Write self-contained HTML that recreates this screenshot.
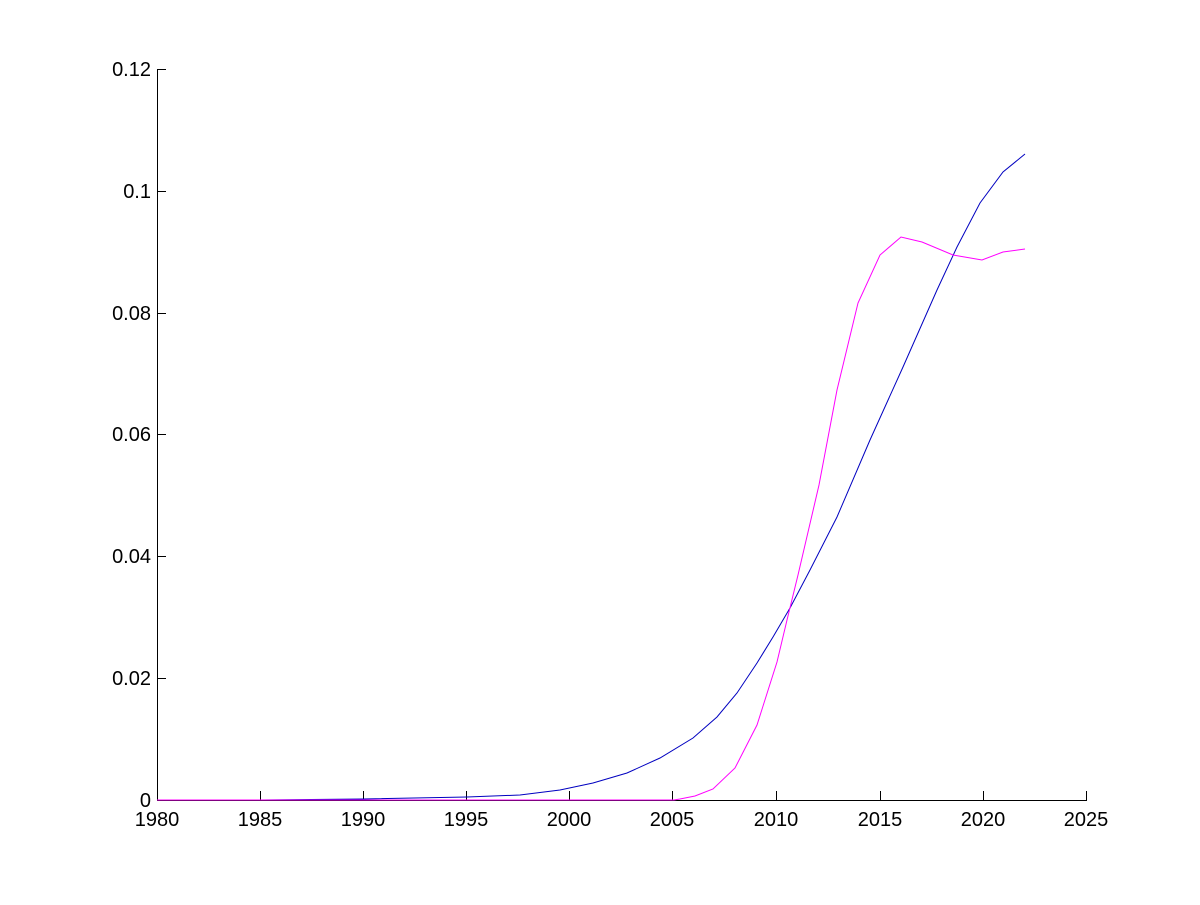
<!DOCTYPE html>
<html><head><meta charset="utf-8"><style>
html,body{margin:0;padding:0;background:#fff;}
svg text{font-family:"Liberation Sans",sans-serif;font-size:20px;fill:#000;}
</style></head><body>
<svg width="1200" height="900" xmlns="http://www.w3.org/2000/svg">
<rect width="1200" height="900" fill="#fff"/>
<g stroke="#000" stroke-width="1" fill="none">
<line x1="157.5" y1="69" x2="157.5" y2="800.5"/>
<line x1="157" y1="800.5" x2="1087" y2="800.5"/>
<line x1="157" y1="69.5" x2="166" y2="69.5"/>
<line x1="157" y1="191.5" x2="166" y2="191.5"/>
<line x1="157" y1="313.5" x2="166" y2="313.5"/>
<line x1="157" y1="434.5" x2="166" y2="434.5"/>
<line x1="157" y1="556.5" x2="166" y2="556.5"/>
<line x1="157" y1="678.5" x2="166" y2="678.5"/>
<line x1="260.5" y1="800" x2="260.5" y2="791"/>
<line x1="363.5" y1="800" x2="363.5" y2="791"/>
<line x1="466.5" y1="800" x2="466.5" y2="791"/>
<line x1="569.5" y1="800" x2="569.5" y2="791"/>
<line x1="672.5" y1="800" x2="672.5" y2="791"/>
<line x1="776.5" y1="800" x2="776.5" y2="791"/>
<line x1="880.5" y1="800" x2="880.5" y2="791"/>
<line x1="983.5" y1="800" x2="983.5" y2="791"/>
<line x1="1086.5" y1="800" x2="1086.5" y2="791"/>
</g>
<g text-anchor="end">
<text x="151" y="76">0.12</text>
<text x="151" y="198">0.1</text>
<text x="151" y="320">0.08</text>
<text x="151" y="441">0.06</text>
<text x="151" y="563">0.04</text>
<text x="151" y="685">0.02</text>
<text x="151" y="807">0</text>
</g>
<g text-anchor="middle">
<text x="157" y="826">1980</text>
<text x="260" y="826">1985</text>
<text x="363" y="826">1990</text>
<text x="466" y="826">1995</text>
<text x="569" y="826">2000</text>
<text x="672" y="826">2005</text>
<text x="776" y="826">2010</text>
<text x="880" y="826">2015</text>
<text x="983" y="826">2020</text>
<text x="1086" y="826">2025</text>
</g>
<polyline fill="none" stroke="#0000c0" stroke-width="1" points="157,800 260,800 363,799 467,797 520,795 560,790 593,783 627,773 660,758 693,738 717,717 737,693 757,663 773,637 790,608 810,570 837,517 870,440 903,367 937,290 957,247 980,203 1003,172 1025,154"/>
<polyline fill="none" stroke="#ff00ff" stroke-width="1" points="157,800 674,800 680,799 695,796 713,789 735,768 757,725 777,662 787,620 798,575 819,485 837,390 858,303 880,255 901,237 922,242 953,255 982,260 1003,252 1025,249"/>
</svg>
</body></html>
